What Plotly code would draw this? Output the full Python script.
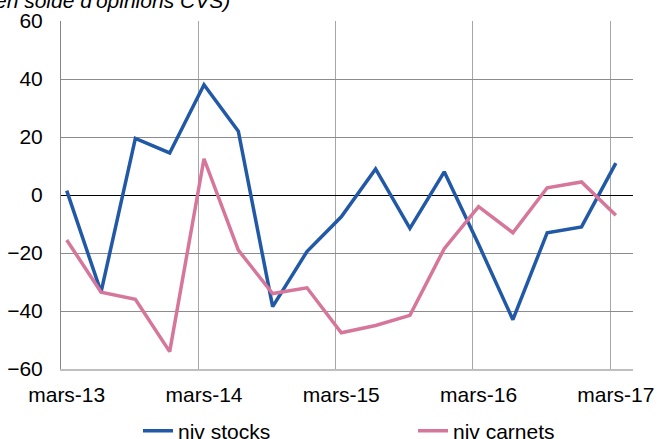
import plotly.graph_objects as go

quarters = ["mars-13", "juin-13", "sept-13", "déc-13",
            "mars-14", "juin-14", "sept-14", "déc-14",
            "mars-15", "juin-15", "sept-15", "déc-15",
            "mars-16", "juin-16", "sept-16", "déc-16",
            "mars-17"]
niv_stocks = [1.5, -33.5, 19.5, 14.5, 38, 22, -38.5, -19.5, -7.5, 9, -11.5, 8, -17, -43, -13, -11, 11]
niv_carnets = [-15.5, -33.5, -36, -54, 12.5, -19, -34, -32, -47.5, -45, -41.5, -18.5, -4, -13, 2.5, 4.5, -7]
y_ticks = [-60, -40, -20, 0, 20, 40, 60]

# monthly axis, points at the centre of their month
xpos = [3 * i + 0.5 for i in range(len(quarters))]
tick_idx = [i for i in range(len(quarters)) if i % 4 == 0]

font = "Liberation Sans, Arial, sans-serif"
W, H = 657, 439

fig = go.Figure()
fig.add_trace(go.Scatter(x=xpos, y=niv_stocks, mode="lines", name="niv stocks",
                         line=dict(color="#2159A6", width=3.5)))
fig.add_trace(go.Scatter(x=xpos, y=niv_carnets, mode="lines", name="niv carnets",
                         line=dict(color="#D6769B", width=3.5)))

fig.update_layout(
    width=W, height=H,
    margin=dict(l=61, r=24, t=21, b=70, autoexpand=False),
    paper_bgcolor="white", plot_bgcolor="white",
    font=dict(family=font, size=21, color="black"),
    showlegend=True,
    legend=dict(orientation="h", xref="container", yref="container",
                x=(148 - 10) / W, xanchor="left", y=1 - 431 / H, yanchor="middle",
                entrywidth=230, entrywidthmode="pixels",
                font=dict(size=21), bgcolor="rgba(0,0,0,0)"),
    xaxis=dict(range=[0, 50], tickmode="array",
               tickvals=[xpos[i] for i in tick_idx],
               ticktext=[quarters[i] for i in tick_idx],
               showgrid=False, zeroline=False, automargin=False,
               showline=True, linecolor="#BFBFBF", linewidth=2,
               ticks="", ticklabelstandoff=6, tickfont=dict(size=21),
               minor=dict(tick0=0, dtick=12, showgrid=True, gridcolor="#A6A6A6", gridwidth=1)),
    yaxis=dict(range=[-60, 60], tickmode="array", tickvals=y_ticks,
               showgrid=True, gridcolor="#8C8C8C", gridwidth=1, automargin=False,
               zeroline=True, zerolinecolor="black", zerolinewidth=1,
               showline=True, linecolor="#868686", linewidth=1,
               ticks="", ticklabelstandoff=13, tickfont=dict(size=21)),
    annotations=[dict(text="<i>(en solde d'opinions CVS)</i>", xref="paper", yref="paper",
                      x=(232 - 61) / 572, xanchor="right",
                      y=1 + (21 - 14) / 348, yanchor="bottom", showarrow=False,
                      font=dict(size=21))],
)

fig.write_html("out.html", config={"displayModeBar": False},
               post_script="document.body.style.margin='0';document.body.style.overflow='hidden';")
